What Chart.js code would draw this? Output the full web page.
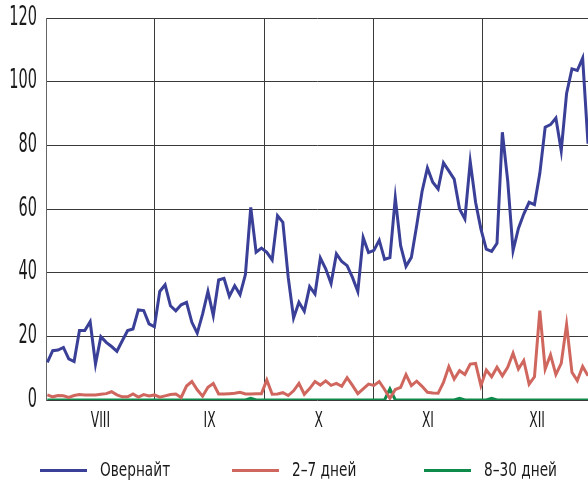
<!DOCTYPE html>
<html>
<head>
<meta charset="utf-8">
<script src="https://cdn.jsdelivr.net/npm/chart.js@4.4.1/dist/chart.umd.min.js"></script>
<style>
  html, body { margin: 0; padding: 0; background: #ffffff; }
  #wrap { width: 588px; height: 485px; position: relative; }
</style>
</head>
<body>
<div id="wrap"><canvas id="c" width="588" height="485"></canvas></div>
<script>
// ---- data (billions of rubles, daily) ----
const seriesNames = ['Овернайт', '2–7 дней', '8–30 дней'];
const monthLabels = ['VIII', 'IX', 'X', 'XI', 'XII'];
// month boundaries expressed in trading-day index units
const monthEdges = [-0.25, 20.1, 40.5, 60.9, 81.3, 101.7];
const yTicks = [0, 20, 40, 60, 80, 100, 120];

const overnight = [
  11.8, 15.5, 15.7, 16.5, 12.9, 12.1, 21.8, 21.8, 24.6, 11.3,
  19.9, 18.1, 16.8, 15.3, 18.6, 21.8, 22.3, 28.3, 28.1, 23.9,
  23.0, 34.1, 36.2, 29.6, 28.0, 29.9, 30.7, 24.4, 21.0, 27.0,
  34.1, 26.5, 37.7, 38.2, 32.6, 35.9, 33.1, 39.4, 60.5, 46.4,
  47.7, 46.4, 44.0, 57.9, 55.8, 38.5, 25.8, 30.7, 27.9, 35.6,
  33.3, 44.6, 41.2, 36.6, 45.9, 43.5, 42.2, 38.5, 34.1, 51.0,
  46.3, 47.0, 50.2, 44.2, 44.7, 63.5, 48.5, 42.0, 44.8, 54.8,
  65.5, 72.9, 68.4, 66.3, 74.5, 72.0, 69.4, 60.0, 56.9, 74.9,
  62.1, 53.7, 47.4, 46.7, 49.2, 84.1, 68.9, 46.9, 53.9, 58.4,
  62.1, 61.4, 71.2, 85.7, 86.5, 88.6, 78.3, 96.3, 104.0, 103.5,
  107.4, 80.5
];
const days2to7 = [
  1.6, 1.0, 1.4, 1.3, 0.8, 1.4, 1.7, 1.6, 1.6, 1.6,
  1.8, 2.0, 2.6, 1.6, 1.0, 1.0, 1.9, 0.9, 1.7, 1.3,
  1.6, 0.9, 1.3, 1.7, 1.9, 0.8, 4.4, 5.8, 3.2, 1.2,
  4.0, 5.2, 1.9, 1.9, 2.0, 2.1, 2.4, 1.9, 1.9, 2.0,
  2.0, 6.3, 1.8, 1.9, 2.3, 1.4, 2.9, 5.2, 1.8, 3.6,
  5.8, 4.7, 6.0, 4.6, 5.2, 4.3, 7.0, 4.6, 2.0, 3.5,
  5.0, 4.6, 5.8, 3.3, 0.5, 3.3, 4.0, 8.0, 4.5, 5.9,
  4.3, 2.4, 2.2, 2.1, 5.5, 10.5, 6.6, 9.2, 8.0, 11.3,
  11.5, 4.5, 9.4, 7.3, 10.3, 7.6, 10.3, 14.7, 9.7, 12.4,
  5.0, 7.3, 28.1, 9.7, 14.2, 8.0, 11.5, 23.7, 8.7, 6.1,
  10.5, 7.6
];
const days8to30 = [
  0, 0, 0, 0, 0, 0, 0, 0, 0, 0,
  0, 0, 0, 0, 0, 0, 0, 0, 0, 0,
  0, 0, 0, 0, 0, 0, 0, 0, 0, 0,
  0, 0, 0, 0, 0, 0, 0, 0, 0.5, 0,
  0, 0, 0, 0, 0, 0, 0, 0, 0, 0,
  0, 0, 0, 0, 0, 0, 0, 0, 0, 0,
  0, 0, 0, 0, 3.5, 0, 0, 0, 0, 0,
  0, 0, 0, 0, 0, 0, 0, 0.5, 0, 0,
  0, 0, 0, 0.5, 0, 0, 0, 0, 0, 0,
  0, 0, 0, 0, 0, 0, 0, 0, 0, 0,
  0, 0
];
const dayIndex = overnight.map((_, i) => i);

// ---- styling ----
const FONT = "'DejaVu Sans Condensed', 'Liberation Sans Narrow', sans-serif";
const TEXT = '#1a1a1a';
const GRID = '#3a3a3a';
const colors = ['#3a3f97', '#d0675f', '#0e8a4a'];
const AXIS_TEXT_SCALE = 0.62;   // reference typeface is strongly condensed
const LEGEND_TEXT_SCALE = 0.8;

function monthAt(v) {
  for (let m = 0; m < monthLabels.length; m++) {
    const mid = (monthEdges[m] + monthEdges[m + 1]) / 2;
    if (Math.abs(mid - v) < 1e-6) return m;
  }
  return -1;
}

// draw text horizontally condensed around its own anchor point
function withCondensed(ctx, sx, fn) {
  const proto = Object.getPrototypeOf(ctx).fillText;
  ctx.fillText = function (t, x, y, w) {
    this.save();
    this.translate(x, y);
    this.scale(sx, 1);
    if (w === undefined) proto.call(this, t, 0, 0); else proto.call(this, t, 0, 0, w / sx);
    this.restore();
  };
  try { fn(); } finally { delete ctx.fillText; }
}

const condensePlugin = {
  id: 'condense',
  afterLayout(chart) {
    Object.values(chart.scales).forEach(s => {
      if (s._condensed) return;
      const orig = s.drawLabels;
      s.drawLabels = function (area) {
        withCondensed(this.ctx, AXIS_TEXT_SCALE, () => orig.call(this, area));
      };
      s._condensed = true;
    });
  }
};

const legendPlugin = {
  id: 'lineLegend',
  afterDraw(chart) {
    const ctx = chart.ctx;
    ctx.save();
    ctx.font = '19px ' + FONT;
    ctx.textBaseline = 'middle';
    ctx.textAlign = 'left';
    chart.data.datasets.forEach((ds, i) => {
      const x0 = 40 + i * 192;
      const y = 470.5;
      ctx.strokeStyle = ds.borderColor;
      ctx.lineWidth = 3;
      ctx.beginPath();
      ctx.moveTo(x0, y);
      ctx.lineTo(x0 + 47, y);
      ctx.stroke();
      ctx.fillStyle = TEXT;
      withCondensed(ctx, LEGEND_TEXT_SCALE, () => ctx.fillText(ds.label, x0 + 60, y + 1));
    });
    ctx.restore();
  }
};

const series = [overnight, days2to7, days8to30];

new Chart(document.getElementById('c'), {
  type: 'line',
  data: {
    labels: dayIndex,
    datasets: series.map((d, i) => ({
      label: seriesNames[i],
      data: d,
      borderColor: colors[i],
      backgroundColor: colors[i],
      borderWidth: 3,
      pointRadius: 0,
      tension: 0,
      fill: false
    }))
  },
  options: {
    responsive: false,
    animation: false,
    layout: { padding: { top: 18, right: 0, bottom: 50, left: 0 } },
    plugins: { legend: { display: false }, tooltip: { enabled: false } },
    scales: {
      x: {
        type: 'linear',
        min: monthEdges[0],
        max: 101,
        afterBuildTicks(scale) {
          const t = [];
          for (let m = 0; m < monthLabels.length; m++) {
            t.push({ value: (monthEdges[m] + monthEdges[m + 1]) / 2 });
            if (m < monthLabels.length - 1) t.push({ value: monthEdges[m + 1] });
          }
          scale.ticks = t;
        },
        afterFit(scale) { scale.height = 35; scale.paddingLeft = 0; scale.paddingRight = 0; },
        ticks: {
          autoSkip: false,
          maxRotation: 0,
          padding: 8,
          color: TEXT,
          font: { family: FONT, size: 22 },
          callback(v) { const m = monthAt(v); return m >= 0 ? monthLabels[m] : ''; }
        },
        grid: {
          drawTicks: false,
          lineWidth: 1,
          color(ctx) { return ctx.tick && monthAt(ctx.tick.value) < 0 ? GRID : 'rgba(0,0,0,0)'; }
        },
        border: { display: false }
      },
      y: {
        min: 0,
        max: 120,
        afterBuildTicks(scale) { scale.ticks = yTicks.map(v => ({ value: v })); },
        afterFit(scale) { scale.width = 46; scale.paddingTop = 0; scale.paddingBottom = 0; },
        ticks: { padding: 9, color: TEXT, font: { family: FONT, size: 26 } },
        grid: { drawTicks: false, color: GRID, lineWidth: 1 },
        border: { display: true, color: '#666', width: 1 }
      }
    }
  },
  plugins: [condensePlugin, legendPlugin]
});
</script>
</body>
</html>
